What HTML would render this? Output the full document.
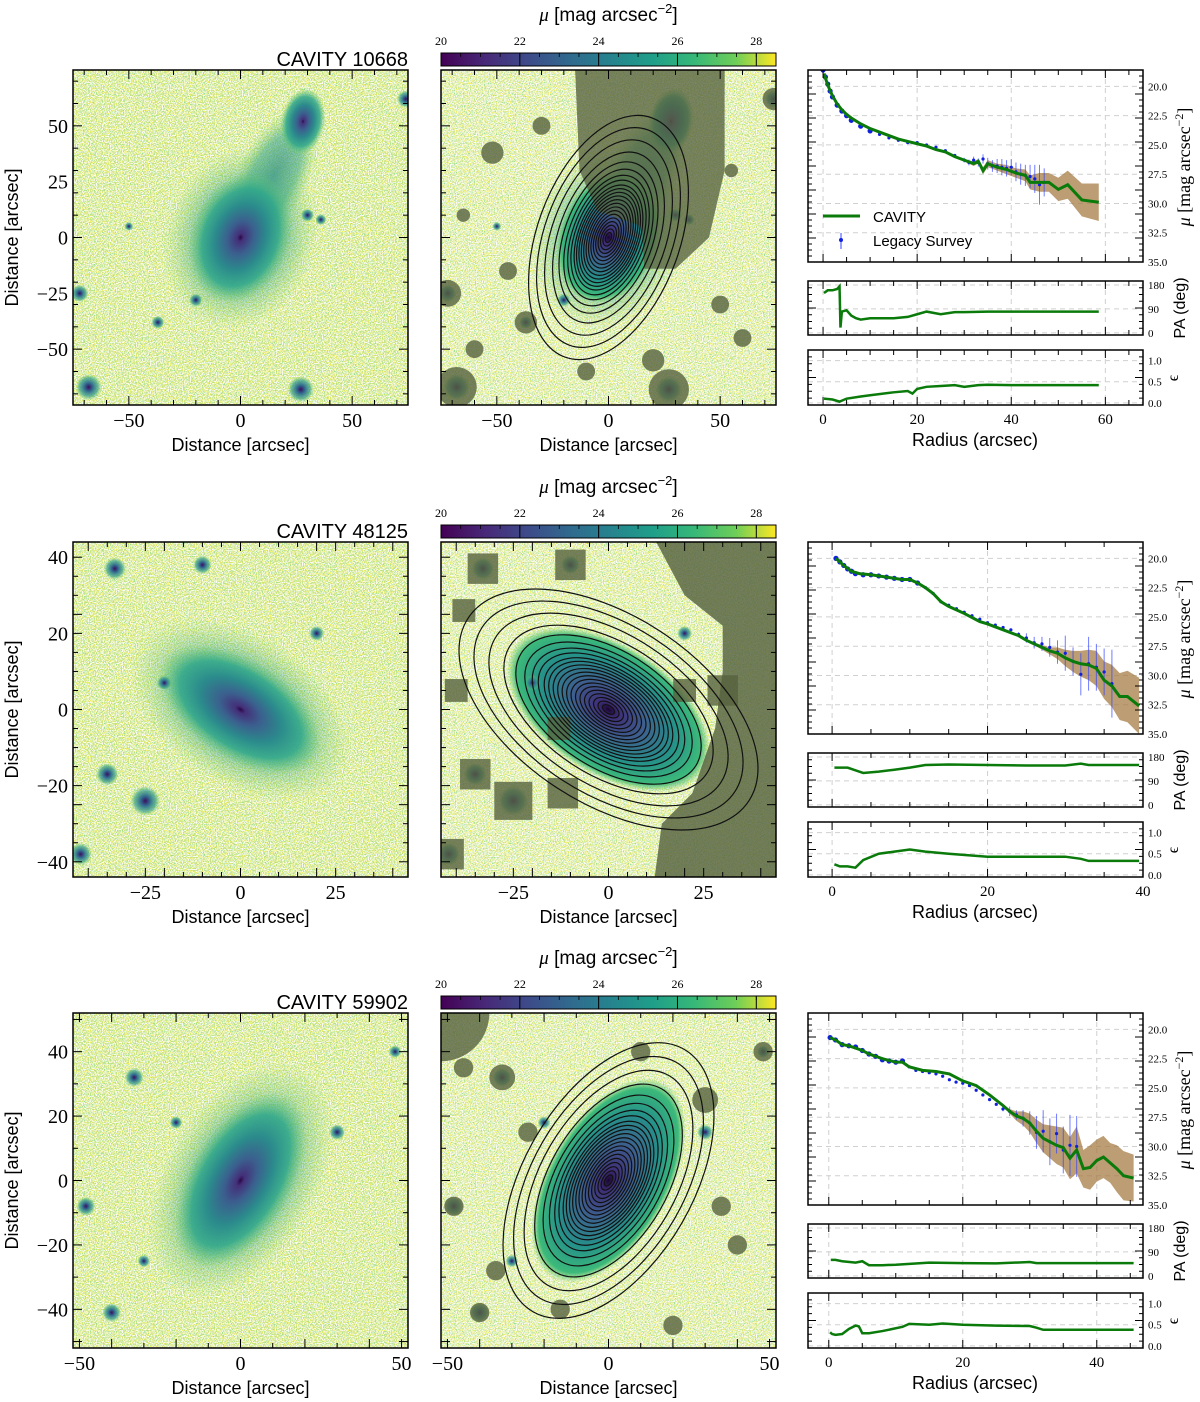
<!DOCTYPE html>
<html><head><meta charset="utf-8">
<style>
html,body{margin:0;padding:0;background:#fff;}
svg{display:block;}
.ser{font-family:"Liberation Serif","DejaVu Serif",serif;}
.san{font-family:"Liberation Sans","DejaVu Sans",sans-serif;}
</style></head>
<body>
<svg id="fig" width="1200" height="1402" viewBox="0 0 1200 1402" xmlns="http://www.w3.org/2000/svg">
<defs>
<filter id="noiseL" x="0" y="0" width="1" height="1">
<feTurbulence type="fractalNoise" baseFrequency="0.9" numOctaves="1" seed="3"/>
<feColorMatrix type="matrix" values="0 0 0 0 0.30  0 0 0 0 0.72  0 0 0 0 0.30  9 0 0 0 -4.4"/>
<feComposite in2="SourceGraphic" operator="in"/>
</filter>
<filter id="noiseY" x="0" y="0" width="1" height="1">
<feTurbulence type="fractalNoise" baseFrequency="0.95" numOctaves="1" seed="17"/>
<feColorMatrix type="matrix" values="0 0 0 0 0.95  0 0 0 0 0.9  0 0 0 0 0.1  9 0 0 0 -4.6"/>
<feComposite in2="SourceGraphic" operator="in"/>
</filter>
<filter id="noiseW" x="0" y="0" width="1" height="1">
<feTurbulence type="fractalNoise" baseFrequency="0.85" numOctaves="1" seed="9"/>
<feColorMatrix type="matrix" values="0 0 0 0 1  0 0 0 0 1  0 0 0 0 1  9 0 0 0 -4.2"/>
<feComposite in2="SourceGraphic" operator="in"/>
</filter>
<radialGradient id="gal"><stop offset="0" stop-color="#2a0845"/><stop offset="0.06" stop-color="#44307a"/><stop offset="0.25" stop-color="#3b5f8e"/><stop offset="0.5" stop-color="#2b8a8c"/><stop offset="0.75" stop-color="#30a88a" stop-opacity="0.85"/><stop offset="1" stop-color="#6acb6a" stop-opacity="0"/></radialGradient>
<radialGradient id="galM"><stop offset="0" stop-color="#1a0530"/><stop offset="0.1" stop-color="#3e2e78"/><stop offset="0.35" stop-color="#3d5f8e"/><stop offset="0.65" stop-color="#259189"/><stop offset="0.9" stop-color="#3cb97a"/><stop offset="1" stop-color="#6acb6a" stop-opacity="0"/></radialGradient>
<radialGradient id="halo"><stop offset="0" stop-color="#2e8a8c"/><stop offset="0.6" stop-color="#3aa68a" stop-opacity="0.7"/><stop offset="1" stop-color="#7ccc6a" stop-opacity="0"/></radialGradient>
<radialGradient id="star"><stop offset="0" stop-color="#3b0f5e"/><stop offset="0.3" stop-color="#31688e"/><stop offset="0.7" stop-color="#35a08a" stop-opacity="0.7"/><stop offset="1" stop-color="#7ccc6a" stop-opacity="0"/></radialGradient>
<linearGradient id="viridis" x1="0" x2="1" y1="0" y2="0">
<stop offset="0" stop-color="#440154"/><stop offset="0.13" stop-color="#482878"/><stop offset="0.25" stop-color="#3e4989"/><stop offset="0.38" stop-color="#31688e"/><stop offset="0.5" stop-color="#26828e"/><stop offset="0.63" stop-color="#1f9e89"/><stop offset="0.75" stop-color="#35b779"/><stop offset="0.88" stop-color="#6ece58"/><stop offset="1" stop-color="#fde725"/>
</linearGradient>
</defs>
</svg>
<script>
// ---------- profile data ----------
const R1_R=[0.2,1,2,3,4,5,6,8,10,12,14,16,18,20,22,24,26,28,30,32,33,34,35,37,39,41,43,44,46,48,50,52,55,58.6];
const R1_MU=[18.9,19.9,20.8,21.5,22.0,22.4,22.7,23.2,23.6,23.9,24.2,24.5,24.7,24.9,25.1,25.4,25.6,26.0,26.3,26.6,26.4,27.2,26.6,26.9,27.1,27.4,27.6,28.2,28.2,28.2,28.8,28.4,29.7,29.9];
const R1_ERR=[0,0,0,0,0,0,0,0,0,0,0,0,0,0,0,0,0,0,0.1,0.2,0.2,0.3,0.3,0.3,0.4,0.4,0.5,0.6,0.8,0.8,1.0,1.2,1.4,1.6];
const R1_LR=[0,0.5,1,1.5,2,3,4,5,6,8,10,12,14,16,18,20,22,24,26,28,30,31,32,33,34,35,36,37,38,39,40,41,42,43,44,45,46,47];
const R1_LMU=[18.6,19.2,19.8,20.4,20.9,21.6,22.1,22.5,22.9,23.4,23.8,24.1,24.4,24.6,24.8,24.8,25.0,25.2,25.5,25.9,26.3,26.5,26.3,26.5,26.2,26.6,26.8,26.8,26.9,27.0,26.9,27.3,27.5,27.6,27.7,27.9,28.4,28.2];
const R1_LE=[0.05,0.05,0.05,0.05,0.05,0.05,0.05,0.05,0.05,0.05,0.05,0.05,0.05,0.05,0.05,0.05,0.05,0.05,0.05,0.05,0.2,0.25,0.3,0.35,0.4,0.5,0.5,0.6,0.7,0.7,0.7,0.8,0.9,0.9,1.0,1.2,1.7,1.2];
const R1_PAR=[0.2,1,2,3,3.5,3.7,4,5,6,7,8,10,12,15,18,20,22,25,28,30,35,40,50,58.6];
const R1_PA=[150,160,160,165,175,20,80,85,65,55,50,55,55,55,60,70,80,70,78,78,80,80,80,80];
const R1_ER=[0.2,2,3.5,5,8,10,15,18,19,20,22,25,28,30,33,35,40,50,58.6];
const R1_EPS=[0.1,0.08,0.03,0.1,0.15,0.18,0.25,0.28,0.22,0.33,0.38,0.4,0.42,0.38,0.42,0.43,0.42,0.42,0.42];

const R2_R=[0.5,1.5,2.5,3.5,5,7,9,10,11,12,13,14,15,17,19,20,22,24,25,26,27,28,29,30,31,32,33,34,35,36,37,38,39.5];
const R2_MU=[20.0,20.6,21.1,21.3,21.4,21.6,21.8,21.8,22.1,22.5,23.0,23.7,24.1,24.7,25.4,25.6,26.1,26.6,27.0,27.3,27.6,27.9,28.1,28.5,28.8,29.0,29.1,29.4,30.4,30.9,31.8,31.8,32.6];
const R2_ERR=[0,0,0,0,0,0,0,0,0,0,0,0,0,0,0,0,0,0,0,0.1,0.2,0.3,0.5,0.7,0.9,1.1,1.3,1.5,1.6,1.8,2.0,2.2,2.4];
const R2_LR=[0.5,1,1.5,2,2.5,3,4,5,6,7,8,9,10,11,12,13,14,15,16,17,18,19,20,21,22,23,24,25,26,27,28,29,30,31,32,33,34,35,36];
const R2_LMU=[20.0,20.3,20.6,20.9,21.1,21.3,21.4,21.4,21.5,21.6,21.7,21.8,21.8,22.1,22.5,23.0,23.7,24.0,24.3,24.6,24.9,25.2,25.5,25.7,25.9,26.1,26.5,26.8,27.2,27.3,27.6,28.0,28.1,28.8,29.9,29.0,29.3,29.7,30.7];
const R2_LE=[0.05,0.05,0.05,0.05,0.05,0.05,0.05,0.05,0.05,0.05,0.05,0.05,0.05,0.05,0.05,0.05,0.05,0.05,0.05,0.05,0.05,0.05,0.05,0.05,0.1,0.1,0.2,0.4,0.5,0.6,0.8,1.0,1.5,1.2,1.8,2.3,2.0,2.0,2.9];
const R2_PAR=[0.3,1,2,3,4,6,8,10,12,15,20,25,30,32,33,35,39.5];
const R2_PA=[140,140,140,130,120,125,132,140,150,152,150,148,148,155,150,150,150];
const R2_ER=[0.3,1,2,3,4,6,8,10,12,15,20,25,30,32,33,35,39.5];
const R2_EPS=[0.25,0.2,0.2,0.17,0.35,0.5,0.55,0.6,0.55,0.5,0.43,0.43,0.43,0.38,0.33,0.33,0.33];

const R3_R=[0.2,1,2,3,4,5,6,8,10,11,12,14,16,18,20,22,24,26,27,28,29,30,31,32,33,34,35,36,37,38,39,40,41,42,43,44,45.5];
const R3_MU=[20.7,20.9,21.3,21.4,21.6,21.8,22.1,22.5,22.8,22.8,23.2,23.5,23.6,23.8,24.4,24.8,25.6,26.5,27.0,27.4,27.6,28.0,28.7,29.3,29.6,29.9,30.1,31.0,30.3,31.9,31.8,31.2,30.9,31.4,31.9,32.5,32.7];
const R3_ERR=[0,0,0,0,0,0,0,0,0,0,0,0,0,0,0,0,0,0,0.2,0.4,0.6,0.8,1.0,1.2,1.4,1.6,1.7,1.8,2.0,1.6,1.9,1.8,1.8,1.7,2.0,2.1,2.0];
const R3_LR=[0.2,1,2,3,4,5,6,7,8,9,10,11,12,13,14,15,16,17,18,19,20,21,22,23,24,25,26,27,28,29,30,31,32,33,34,35,36,37];
const R3_LMU=[20.7,20.9,21.3,21.4,21.5,21.8,22.1,22.3,22.6,22.7,22.8,22.7,23.2,23.5,23.6,23.7,23.8,24.0,24.3,24.5,24.6,24.8,25.2,25.6,26.0,26.4,26.8,27.0,27.3,27.6,28.0,28.8,28.7,29.6,28.9,30.3,29.9,30.0];
const R3_LE=[0.05,0.05,0.05,0.05,0.05,0.05,0.05,0.05,0.05,0.05,0.05,0.05,0.05,0.05,0.05,0.05,0.05,0.05,0.05,0.05,0.05,0.05,0.05,0.05,0.05,0.1,0.2,0.4,0.4,0.7,1.0,1.4,1.8,2.0,1.7,2.0,2.6,2.6];
const R3_PAR=[0.3,1,2,4,5,6,8,10,15,20,25,30,31,35,45.5];
const R3_PA=[60,60,55,50,55,40,40,42,50,48,47,52,48,48,48];
const R3_ER=[0.2,0.5,1,2,3,4,4.5,5,6,8,11,12,15,17,20,25,30,31,32,45.5];
const R3_EPS=[0.32,0.28,0.26,0.28,0.4,0.48,0.46,0.3,0.3,0.35,0.45,0.52,0.5,0.53,0.5,0.48,0.47,0.43,0.38,0.38];

const MU_TICKS=[20,22.5,25,27.5,30,32.5,35];
const PA_TICKS=[0,90,180];
const EPS_TICKS=[0,0.5,1];
const CB_TICKS=[20,22,24,26,28];
const NAMES=["CAVITY 10668","CAVITY 48125","CAVITY 59902"];

const NS="http://www.w3.org/2000/svg";
const svg=document.getElementById('fig');
function el(tag,attrs,parent){const e=document.createElementNS(NS,tag);for(const k in attrs)e.setAttribute(k,attrs[k]);(parent||svg).appendChild(e);return e;}
function txt(s,attrs,parent){const t=el('text',attrs,parent);t.textContent=s;return t;}

const ROWS=[
 {dy:0, ext:75, lblX:[-50,0,50], lblY:[-50,-25,0,25,50], rmin:-3.2, rmax:68, rt:[0,20,40,60]},
 {dy:472, ext:44, lblX:[-25,0,25], lblY:[-40,-20,0,20,40], rmin:-3.1, rmax:40, rt:[0,20,40]},
 {dy:943, ext:52, lblX:[-50,0,50], lblY:[-40,-20,0,20,40], rmin:-3.1, rmax:46.9, rt:[0,20,40]}
];
const PROF=[
 {r:R1_R,mu:R1_MU,err:R1_ERR,lr:R1_LR,lmu:R1_LMU,le:R1_LE,par:R1_PAR,pa:R1_PA,er:R1_ER,eps:R1_EPS},
 {r:R2_R,mu:R2_MU,err:R2_ERR,lr:R2_LR,lmu:R2_LMU,le:R2_LE,par:R2_PAR,pa:R2_PA,er:R2_ER,eps:R2_EPS},
 {r:R3_R,mu:R3_MU,err:R3_ERR,lr:R3_LR,lmu:R3_LMU,le:R3_LE,par:R3_PAR,pa:R3_PA,er:R3_ER,eps:R3_EPS}
];

// ---------- image panels ----------
function imagePanel(ri,x0,isModel){
 const R=ROWS[ri]; const y0=70+R.dy, W=335; const s=W/(2*R.ext);
 const cx=x0+W/2, cy=y0+W/2;
 const P=(u,v)=>[cx+u*s, cy-v*s];
 const g=el('g',{});
 
 
 const clipId='clip'+ri+(isModel?'m':'l');
 const cp=el('clipPath',{id:clipId},g); el('rect',{x:x0,y:y0,width:W,height:W},cp);
 const inner=el('g',{'clip-path':'url(#'+clipId+')'},g);
 el('rect',{x:x0,y:y0,width:W,height:W,fill:isModel?'#dfe9a8':'#cfe283'},inner);
 el('rect',{x:x0,y:y0,width:W,height:W,fill:'#fff',filter:'url(#noiseL)',opacity:0.9},inner);
 el('rect',{x:x0,y:y0,width:W,height:W,fill:'#fff',filter:'url(#noiseY)',opacity:0.9},inner);
 el('rect',{x:x0,y:y0,width:W,height:W,fill:'#fff',filter:'url(#noiseW)',opacity:0.9},inner);
 const ell=(u,v,a,b,rot,fill,op)=>{const [X,Y]=P(u,v);el('ellipse',{cx:X,cy:Y,rx:a*s,ry:b*s,transform:`rotate(${rot} ${X} ${Y})`,fill:fill,opacity:op==null?1:op},inner);};
 const stars={0:[[-68,-67,6],[27,-68,6],[-72,-25,4],[-37,-38,3],[74,62,4],[30,10,3],[36,8,2.5],[-50,5,2],[-20,-28,3]],
  1:[[-25,-24,4],[-33,37,3],[-10,38,2.5],[-42,-38,3],[-35,-17,3],[-20,7,2],[20,20,2]],
  2:[[-33,32,3],[-48,-8,3],[-40,-41,3],[-30,-25,2],[30,15,2.5],[48,40,2],[-20,18,2]]};
 if(ri===0){ ell(15,28,16,32,25,'url(#halo)',0.8); ell(0,0,34,42,20,'url(#halo)',0.7); ell(28,52,10,15,10,'url(#gal)'); }
 if(ri===1 && !isModel) ell(0,0,32,20,33,'url(#halo)',0.7);
 if(ri===2 && !isModel) ell(0,0,24,40,30,'url(#halo)',0.7);
 if(ri===0) ell(0,0,22,30,20,isModel?'url(#galM)':'url(#gal)');
 if(ri===1) ell(0,0,isModel?30:24,isModel?17:13,33,isModel?'url(#galM)':'url(#gal)');
 if(ri===2) ell(0,0,isModel?19:16,isModel?35:30,30,isModel?'url(#galM)':'url(#gal)');
 stars[ri].forEach(st=>{const [X,Y]=P(st[0],st[1]);el('circle',{cx:X,cy:Y,r:st[2]*s,fill:'url(#star)'},inner);});
 if(isModel){
  const MASK='#56613f';
  const poly=(pts,op)=>el('polygon',{points:pts.map(p=>P(p[0],p[1]).join(',')).join(' '),fill:MASK,opacity:op},inner);
  if(ri===0){
   poly([[-15,76],[52,76],[52,30],[45,0],[30,-14],[16,-14],[15,5],[-5,12],[-13,30]],0.78);
   [[-68,-67,9],[27,-68,9],[-72,-25,6],[-37,-38,5],[-52,38,5],[-30,50,4],[74,62,5],[-60,-50,4],[20,-55,5],[50,-30,4],[-10,-60,4],[-45,-15,4],[60,-45,4],[-65,10,3],[55,30,3]]
    .forEach(c=>{const [X,Y]=P(c[0],c[1]);el('circle',{cx:X,cy:Y,r:c[2]*s,fill:MASK,opacity:0.8},inner);});
  }
  if(ri===1){
   poly([[12,45],[45,45],[45,-45],[12,-45],[14,-30],[22,-22],[28,-5],[30,10],[30,22],[20,30]],0.82);
   [[-25,-24,5],[-33,37,4],[-10,38,4],[-42,-38,4],[-35,-17,4],[-38,26,3],[-13,-5,3],[-12,-22,4],[20,5,3],[30,5,4],[-40,5,3]]
    .forEach(c=>{const [X,Y]=P(c[0],c[1]);el('rect',{x:X-c[2]*s,y:Y-c[2]*s,width:2*c[2]*s,height:2*c[2]*s,fill:MASK,opacity:0.8},inner);});
  }
  if(ri===2){
   const [X,Y]=P(-52,52);el('circle',{cx:X,cy:Y,r:15*s,fill:MASK,opacity:0.8},inner);
   [[-33,32,4],[-48,-8,3],[-40,-41,3],[-45,35,3],[-25,15,3],[30,25,4],[48,40,3],[40,-20,3],[-15,-40,3],[20,-45,3],[-35,-28,3],[10,40,3],[35,-8,3]]
    .forEach(c=>{const [X2,Y2]=P(c[0],c[1]);el('circle',{cx:X2,cy:Y2,r:c[2]*s,fill:MASK,opacity:0.8},inner);});
  }
  // isophote contours
  const spec=[{a:57,q:0.56,rot:20},{a:44,q:0.56,rot:33},{a:47,q:0.56,rot:30}][ri];
  const fr=[0.04,0.07,0.1,0.13,0.16,0.19,0.22,0.25,0.28,0.31,0.34,0.37,0.40,0.43,0.47,0.51,0.56,0.62,0.7,0.8,0.9,1.0];
  fr.forEach(f=>{const [X,Y]=P(0,0);const a=spec.a*f*s,b=a*spec.q;
   const e=el('ellipse',{cx:X,cy:Y,rx:ri===1?a:b,ry:ri===1?b:a,transform:`rotate(${spec.rot} ${X} ${Y})`,fill:'none',stroke:'#111','stroke-width':1.2},inner);
   
   });
 }
 el('rect',{x:x0,y:y0,width:W,height:W,fill:'none',stroke:'#000','stroke-width':1.5},g);
 // ticks
 const step= R.ext>48?10:5;
 for(let v=-Math.floor(R.ext/step)*step; v<=R.ext; v+=step){
  const big=(R.lblX.includes(v)||R.lblY.includes(v)); const L=big?9:5;
  const [X,Y]=P(v,v);
  el('line',{x1:X,y1:y0+W,x2:X,y2:y0+W-L,stroke:'#000'},g); el('line',{x1:X,y1:y0,x2:X,y2:y0+L,stroke:'#000'},g);
  el('line',{x1:x0,y1:Y,x2:x0+L,y2:Y,stroke:'#000'},g); el('line',{x1:x0+W,y1:Y,x2:x0+W-L,y2:Y,stroke:'#000'},g);
 }
 R.lblX.forEach(v=>{const [X]=P(v,0);const t=txt(v<0?'\u2212'+(-v):String(v),{x:X,y:y0+W+22,'text-anchor':'middle','font-size':20,class:'ser'},g);
  });
 const xl=txt('Distance [arcsec]',{x:cx,y:y0+W+46,'text-anchor':'middle','font-size':18,class:'san'},g);
 
 if(!isModel){
  R.lblY.forEach(v=>{const [,Y]=P(0,v);const t=txt(v<0?'\u2212'+(-v):String(v),{x:x0-5,y:Y+7,'text-anchor':'end','font-size':20,class:'ser'},g);
   });
  const yl=txt('Distance [arcsec]',{x:18,y:cy,'text-anchor':'middle','font-size':18,class:'san',transform:`rotate(-90 18 ${cy})`},g);
  
  const tt=txt(NAMES[ri],{x:x0+W,y:y0-4,'text-anchor':'end','font-size':20,class:'san'},g);
  
 } else {
  const cb=el('g',{},g); 
  const cbx=(m)=>x0+(m-20)/8.5*W;
  el('rect',{x:x0,y:y0-17,width:W,height:13,fill:'url(#viridis)',stroke:'#000','stroke-width':1},cb);
  CB_TICKS.forEach(m=>{const X=cbx(m);el('line',{x1:X,y1:y0-17,x2:X,y2:y0-4,stroke:'#000'},cb);
   const t=txt(String(m),{x:X,y:y0-25,'text-anchor':'middle','font-size':12,class:'ser'},cb);
   });
  for(let m=20.5;m<28.5;m+=0.5){const X=cbx(m);el('line',{x1:X,y1:y0-17,x2:X,y2:y0-13,stroke:'#000','stroke-width':0.8},cb);}
  const ct=el('text',{x:cx,y:y0-49,'text-anchor':'middle','font-size':19,class:'san'},cb);
  
  ct.innerHTML='<tspan font-style="italic" class="ser">\u03bc</tspan> [mag arcsec<tspan dy="-8" font-size="13">\u22122</tspan><tspan dy="8">]</tspan>';
 }
}

// ---------- profile panels ----------
function profilePanel(ri){
 const R=ROWS[ri], D=PROF[ri]; const x0=808,W=335;
 const xs=r=>x0+(r-R.rmin)/(R.rmax-R.rmin)*W;
 const panels=[{y0:70+R.dy,h:192,lo:18.6,hi:35,ticks:MU_TICKS,fmt:v=>v.toFixed(1),name:'surface-brightness-panel'},
  {y0:281+R.dy,h:54,lo:195,hi:-8,ticks:PA_TICKS,fmt:v=>String(v),name:'position-angle-panel'},
  {y0:350+R.dy,h:55,lo:1.25,hi:-0.05,ticks:EPS_TICKS,fmt:v=>v.toFixed(1),name:'ellipticity-panel'}];
 panels.forEach((p,pi)=>{
  const ys=v=>p.y0+(v-p.lo)/(p.hi-p.lo)*p.h;
  const g=el('g',{});  
  const cid='pc'+ri+pi; const cp=el('clipPath',{id:cid},g); el('rect',{x:x0,y:p.y0,width:W,height:p.h},cp);
  const inner=el('g',{'clip-path':`url(#${cid})`},g);
  R.rt.forEach(r=>el('line',{x1:xs(r),x2:xs(r),y1:p.y0,y2:p.y0+p.h,stroke:'#d0d0d0','stroke-dasharray':'5,4'},inner));
  p.ticks.forEach(v=>el('line',{x1:x0,x2:x0+W,y1:ys(v),y2:ys(v),stroke:'#d0d0d0','stroke-dasharray':'5,4'},inner));
  if(pi===0){
   let up=D.r.map((r,i)=>xs(r)+','+ys(D.mu[i]-D.err[i]));
   let dn=D.r.map((r,i)=>xs(r)+','+ys(D.mu[i]+D.err[i])).reverse();
   const band=el('polygon',{points:up.concat(dn).join(' '),fill:'#a67c45',opacity:0.75},inner);
   
   const lg=el('g',{},inner); 
   D.lr.forEach((r,i)=>{const X=xs(r),Y=ys(D.lmu[i]);
    el('line',{x1:X,x2:X,y1:ys(D.lmu[i]-D.le[i]),y2:ys(D.lmu[i]+D.le[i]),stroke:'#3344ff','stroke-width':1,opacity:0.7},lg);
    el('circle',{cx:X,cy:Y,r:r<12?2.6:1.6,fill:'#1020e0'},lg);});
   const cl=el('polyline',{points:D.r.map((r,i)=>xs(r)+','+ys(D.mu[i])).join(' '),fill:'none',stroke:'#0a7a0a','stroke-width':3},inner);
   
  } else {
   const arrR=pi===1?D.par:D.er, arrV=pi===1?D.pa:D.eps;
   const ln=el('polyline',{points:arrR.map((r,i)=>xs(r)+','+ys(arrV[i])).join(' '),fill:'none',stroke:'#0a7a0a','stroke-width':2.5},inner);
   
  }
  el('rect',{x:x0,y:p.y0,width:W,height:p.h,fill:'none',stroke:'#000','stroke-width':1.5},g);
  for(let r=0;r<=R.rmax;r+=5){const big=R.rt.includes(r);const L=big?8:5;
   el('line',{x1:xs(r),x2:xs(r),y1:p.y0,y2:p.y0+L,stroke:'#000'},g);el('line',{x1:xs(r),x2:xs(r),y1:p.y0+p.h,y2:p.y0+p.h-L,stroke:'#000'},g);}
  const nMinor=pi===0?32:8;
  for(let k=0;k<=nMinor;k++){const Y=p.y0+k*p.h/nMinor;const L=(k%4===0)?8:4;
   el('line',{x1:x0,x2:x0+L,y1:Y,y2:Y,stroke:'#000'},g);el('line',{x1:x0+W,x2:x0+W-L,y1:Y,y2:Y,stroke:'#000'},g);}
  p.ticks.forEach(v=>{const t=txt(p.fmt(v),{x:x0+W+5,y:ys(v)+4,'font-size':11,class:'ser'},g);
   });
 });
 const ml=el('text',{x:1190,y:167+R.dy,'text-anchor':'middle','font-size':18,class:'ser',transform:`rotate(-90 1190 ${167+R.dy})`});
 
 ml.innerHTML='<tspan font-style="italic">\u03bc</tspan> [mag arcsec<tspan dy="-7" font-size="12">\u22122</tspan><tspan dy="7">]</tspan>';
 const pl=txt('PA (deg)',{x:1185,y:308+R.dy,'text-anchor':'middle','font-size':16,class:'san',transform:`rotate(-90 1185 ${308+R.dy})`});
 
 const el2=txt('\u03f5',{x:1178,y:378+R.dy,'text-anchor':'middle','font-size':16,class:'ser',transform:`rotate(-90 1178 ${378+R.dy})`});
 
 R.rt.forEach(r=>{const t=txt(String(r),{x:xs(r),y:424+R.dy,'text-anchor':'middle','font-size':15,class:'ser'});
  });
 const rl=txt('Radius (arcsec)',{x:975,y:446+R.dy,'text-anchor':'middle','font-size':18,class:'san'});
 
 if(ri===0){
  const lg=el('g',{}); 
  el('line',{x1:823,x2:860,y1:216,y2:216,stroke:'#0a7a0a','stroke-width':3},lg);
  txt('CAVITY',{x:873,y:222,'font-size':15,class:'san'},lg);
  el('line',{x1:841,x2:841,y1:233,y2:249,stroke:'#3344ff'},lg);
  el('circle',{cx:841,cy:240,r:2,fill:'#1020e0'},lg);
  txt('Legacy Survey',{x:873,y:246,'font-size':15,class:'san'},lg);
 }
}

for(let i=0;i<3;i++){imagePanel(i,73,false);imagePanel(i,441,true);profilePanel(i);}
</script>
</body></html>
